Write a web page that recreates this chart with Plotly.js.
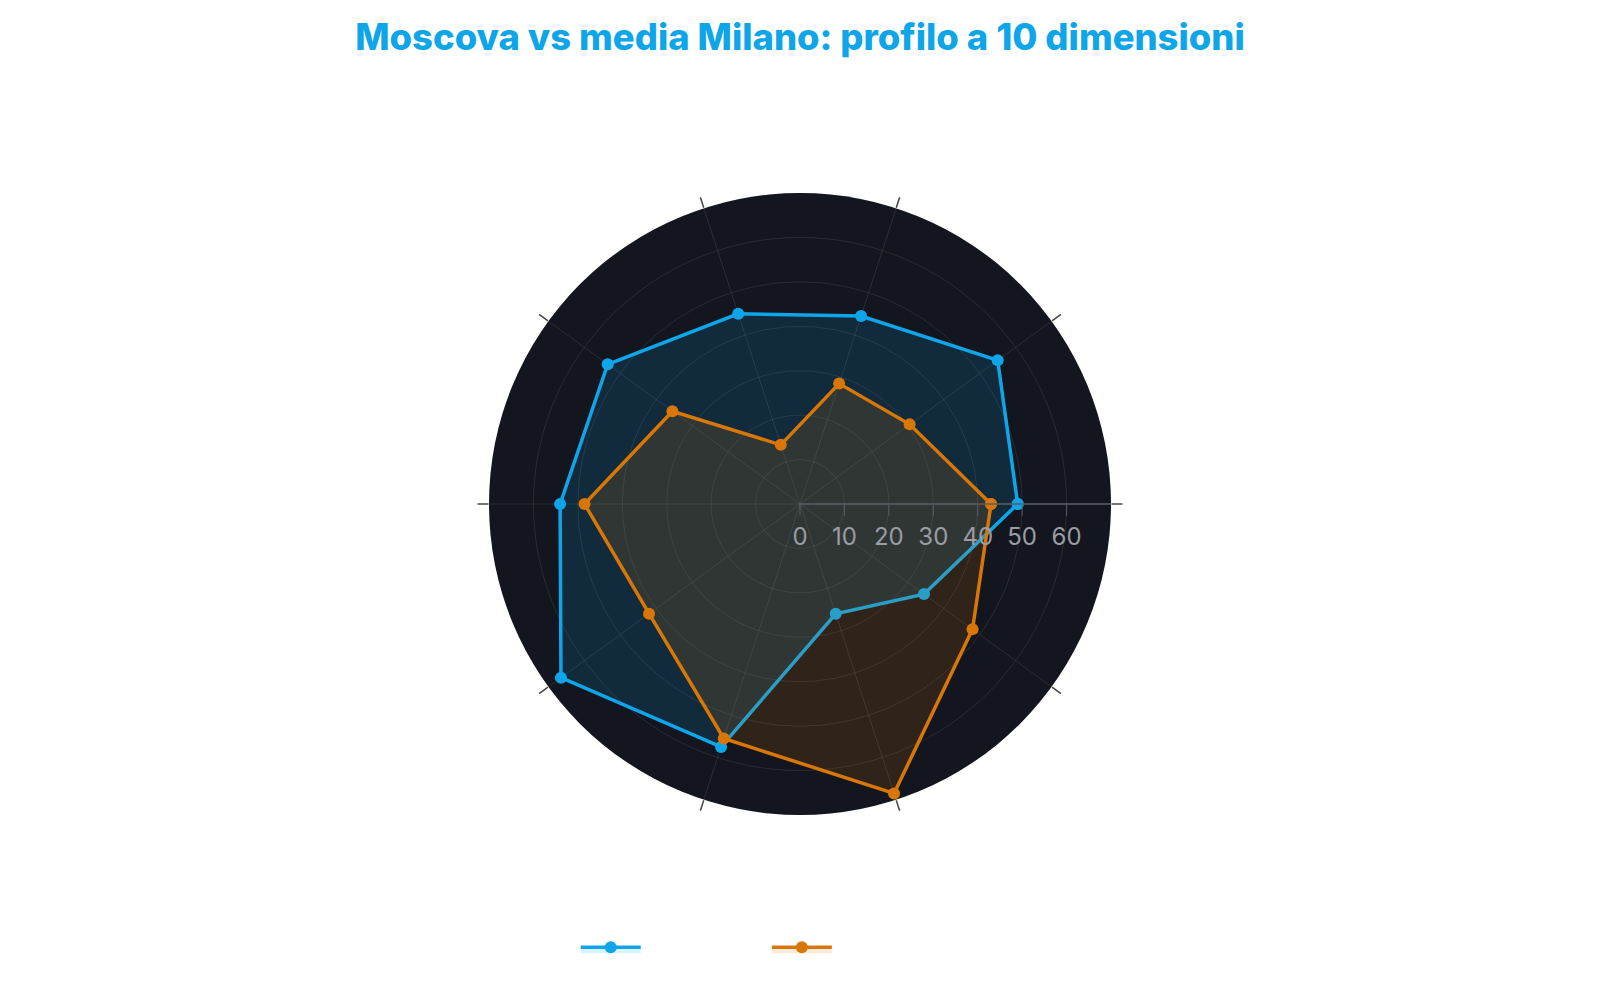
<!DOCTYPE html>
<html>
<head>
<meta charset="utf-8">
<script src="https://cdn.plot.ly/plotly-3.0.1.min.js"></script>
<style>
  html, body { margin: 0; padding: 0; background: #ffffff; }
  #chart { width: 1600px; height: 1000px; }
</style>
</head>
<body>
<div id="chart"></div>
<script>
// dimensioni del profilo (etichette angolari)
const dimensions = [
  'Verde', 'Trasporti', 'Sicurezza', 'Servizi', 'Cultura',
  'Ristorazione', 'Vita notturna', 'Costo casa', 'Rumore', 'Qualità aria'
];
const moscovaValues = [49, 55, 44.5, 45, 53.5, 54, 66.5, 57.5, 26, 34.5];
const milanoValues  = [43, 30.5, 28.5, 14, 35.5, 48.5, 42, 55.5, 68.5, 48];
const seriesNames = ['Moscova', 'Media Milano'];
const radialTicks = [0, 10, 20, 30, 40, 50, 60];

const BLUE = '#0ea5e9';
const ORANGE = '#d97706';

// chiude il poligono ripetendo il primo punto
function closed(arr) {
    return arr.concat([arr[0]]);
}

function radarTrace(name, values, color, fill) {
    return {
        type: 'scatterpolar',
        name: name,
        r: closed(values),
        theta: closed(dimensions),
        mode: 'lines+markers',
        fill: 'toself',
        fillcolor: fill,
        line: { color: color, width: 3.5 },
        marker: { color: color, size: 12 },
        hoverinfo: 'skip'
    };
}

const traces = [
    radarTrace(seriesNames[0], moscovaValues, BLUE, 'rgba(14,165,233,0.15)'),
    radarTrace(seriesNames[1], milanoValues, ORANGE, 'rgba(217,119,6,0.15)')
];

const layout = {
    width: 1600,
    height: 1000,
    paper_bgcolor: '#ffffff',
    plot_bgcolor: '#ffffff',
    margin: { t: 193, b: 185, l: 80, r: 80 },
    font: { family: 'Inter, sans-serif', color: '#ffffff' },
    title: {
        text: 'Moscova vs media Milano: profilo a 10 dimensioni',
        x: 0.5,
        xanchor: 'center',
        y: 0.963,
        yanchor: 'middle',
        font: { family: 'Inter, sans-serif', size: 36.4, weight: 800, color: BLUE }
    },
    polar: {
        bgcolor: '#13161e',
        radialaxis: {
            range: [0, 70],
            tickvals: radialTicks,
            angle: 0,
            showline: true,
            linecolor: '#5a5d63',
            linewidth: 1.5,
            gridcolor: 'rgba(255,255,255,0.09)',
            ticks: 'outside',
            ticklen: 11,
            tickcolor: '#5a5d63',
            tickfont: { family: 'Inter, sans-serif', size: 24, color: '#9a9da3' }
        },
        angularaxis: {
            direction: 'counterclockwise',
            rotation: 0,
            showline: false,
            gridcolor: 'rgba(255,255,255,0.1)',
            ticks: 'outside',
            ticklen: 11,
            tickwidth: 1.5,
            tickcolor: '#444444',
            tickfont: { family: 'Inter, sans-serif', size: 14, color: '#ffffff' }
        }
    },
    showlegend: true,
    legend: {
        orientation: 'h',
        x: 0.496,
        xanchor: 'center',
        y: -0.174,
        yanchor: 'top',
        itemwidth: 60,
        font: { family: 'Inter, sans-serif', size: 27, color: '#ffffff' }
    }
};

Plotly.newPlot('chart', traces, layout, { displayModeBar: false, staticPlot: true });
</script>
</body>
</html>
